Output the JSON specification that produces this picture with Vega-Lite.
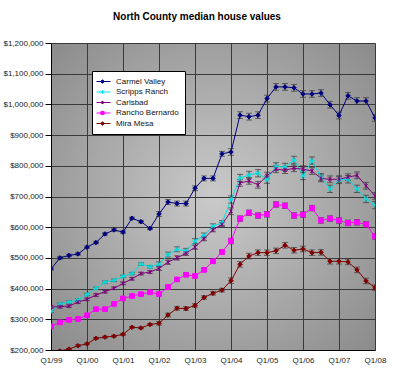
{
  "$schema": "https://vega.github.io/schema/vega-lite/v6.json",
  "width": 324,
  "height": 307,
  "padding": {"left": 2, "top": 12, "right": 5, "bottom": 5},
  "title": {"text": "North County median house values", "fontSize": 10, "font": "Liberation Sans", "fontWeight": "bold", "color": "#000000", "anchor": "middle", "frame": "group", "dx": -16, "offset": 17},
  "view": {
    "fill": {"gradient": "radial", "x1": 0.5, "y1": 0.5, "r1": 0, "x2": 0.5, "y2": 0.5, "r2": 0.72,
      "stops": [{"offset": 0, "color": "#cacaca"}, {"offset": 1, "color": "#888888"}]},
    "stroke": "#d8d8d8"
  },
  "config": {
    "font": "Liberation Sans",
    "axis": {"labelFont": "Liberation Sans", "labelFontSize": 8, "labelColor": "#222222", "gridColor": "#3a3a3a", "gridOpacity": 1, "gridWidth": 1, "domainColor": "#000000", "tickColor": "#000000", "title": null}
  },
  "data": {"values": [
    {"q":"Q1/99","s":"Carmel Valley","v":464000,"e":4000},
    {"q":"Q2/99","s":"Carmel Valley","v":500000,"e":4000},
    {"q":"Q3/99","s":"Carmel Valley","v":508000,"e":4000},
    {"q":"Q4/99","s":"Carmel Valley","v":513000,"e":4000},
    {"q":"Q1/00","s":"Carmel Valley","v":535000,"e":4000},
    {"q":"Q2/00","s":"Carmel Valley","v":550000,"e":4000},
    {"q":"Q3/00","s":"Carmel Valley","v":578000,"e":4000},
    {"q":"Q4/00","s":"Carmel Valley","v":591000,"e":4000},
    {"q":"Q1/01","s":"Carmel Valley","v":584000,"e":4000},
    {"q":"Q2/01","s":"Carmel Valley","v":629000,"e":4000},
    {"q":"Q3/01","s":"Carmel Valley","v":618000,"e":4000},
    {"q":"Q4/01","s":"Carmel Valley","v":596000,"e":4000},
    {"q":"Q1/02","s":"Carmel Valley","v":643000,"e":8000},
    {"q":"Q2/02","s":"Carmel Valley","v":682000,"e":8000},
    {"q":"Q3/02","s":"Carmel Valley","v":677000,"e":8000},
    {"q":"Q4/02","s":"Carmel Valley","v":677000,"e":8000},
    {"q":"Q1/03","s":"Carmel Valley","v":727000,"e":8000},
    {"q":"Q2/03","s":"Carmel Valley","v":759000,"e":8000},
    {"q":"Q3/03","s":"Carmel Valley","v":759000,"e":8000},
    {"q":"Q4/03","s":"Carmel Valley","v":839000,"e":8000},
    {"q":"Q1/04","s":"Carmel Valley","v":845000,"e":11000},
    {"q":"Q2/04","s":"Carmel Valley","v":965000,"e":11000},
    {"q":"Q3/04","s":"Carmel Valley","v":960000,"e":11000},
    {"q":"Q4/04","s":"Carmel Valley","v":965000,"e":11000},
    {"q":"Q1/05","s":"Carmel Valley","v":1019000,"e":11000},
    {"q":"Q2/05","s":"Carmel Valley","v":1057000,"e":11000},
    {"q":"Q3/05","s":"Carmel Valley","v":1057000,"e":11000},
    {"q":"Q4/05","s":"Carmel Valley","v":1054000,"e":11000},
    {"q":"Q1/06","s":"Carmel Valley","v":1034000,"e":11000},
    {"q":"Q2/06","s":"Carmel Valley","v":1034000,"e":11000},
    {"q":"Q3/06","s":"Carmel Valley","v":1037000,"e":11000},
    {"q":"Q4/06","s":"Carmel Valley","v":999000,"e":11000},
    {"q":"Q1/07","s":"Carmel Valley","v":964000,"e":11000},
    {"q":"Q2/07","s":"Carmel Valley","v":1028000,"e":11000},
    {"q":"Q3/07","s":"Carmel Valley","v":1011000,"e":11000},
    {"q":"Q4/07","s":"Carmel Valley","v":1011000,"e":11000},
    {"q":"Q1/08","s":"Carmel Valley","v":956000,"e":11000},
    {"q":"Q1/99","s":"Scripps Ranch","v":326000,"e":4000},
    {"q":"Q2/99","s":"Scripps Ranch","v":349000,"e":4000},
    {"q":"Q3/99","s":"Scripps Ranch","v":356000,"e":4000},
    {"q":"Q4/99","s":"Scripps Ranch","v":363000,"e":4000},
    {"q":"Q1/00","s":"Scripps Ranch","v":381000,"e":4000},
    {"q":"Q2/00","s":"Scripps Ranch","v":401000,"e":4000},
    {"q":"Q3/00","s":"Scripps Ranch","v":421000,"e":4000},
    {"q":"Q4/00","s":"Scripps Ranch","v":427000,"e":4000},
    {"q":"Q1/01","s":"Scripps Ranch","v":440000,"e":4000},
    {"q":"Q2/01","s":"Scripps Ranch","v":449000,"e":4000},
    {"q":"Q3/01","s":"Scripps Ranch","v":480000,"e":4000},
    {"q":"Q4/01","s":"Scripps Ranch","v":471000,"e":4000},
    {"q":"Q1/02","s":"Scripps Ranch","v":479000,"e":8000},
    {"q":"Q2/02","s":"Scripps Ranch","v":511000,"e":8000},
    {"q":"Q3/02","s":"Scripps Ranch","v":528000,"e":8000},
    {"q":"Q4/02","s":"Scripps Ranch","v":523000,"e":8000},
    {"q":"Q1/03","s":"Scripps Ranch","v":555000,"e":8000},
    {"q":"Q2/03","s":"Scripps Ranch","v":573000,"e":8000},
    {"q":"Q3/03","s":"Scripps Ranch","v":603000,"e":8000},
    {"q":"Q4/03","s":"Scripps Ranch","v":614000,"e":8000},
    {"q":"Q1/04","s":"Scripps Ranch","v":690000,"e":12000},
    {"q":"Q2/04","s":"Scripps Ranch","v":760000,"e":12000},
    {"q":"Q3/04","s":"Scripps Ranch","v":770000,"e":12000},
    {"q":"Q4/04","s":"Scripps Ranch","v":776000,"e":12000},
    {"q":"Q1/05","s":"Scripps Ranch","v":755000,"e":12000},
    {"q":"Q2/05","s":"Scripps Ranch","v":798000,"e":12000},
    {"q":"Q3/05","s":"Scripps Ranch","v":796000,"e":12000},
    {"q":"Q4/05","s":"Scripps Ranch","v":819000,"e":12000},
    {"q":"Q1/06","s":"Scripps Ranch","v":767000,"e":12000},
    {"q":"Q2/06","s":"Scripps Ranch","v":817000,"e":12000},
    {"q":"Q3/06","s":"Scripps Ranch","v":763000,"e":12000},
    {"q":"Q4/06","s":"Scripps Ranch","v":725000,"e":12000},
    {"q":"Q1/07","s":"Scripps Ranch","v":754000,"e":12000},
    {"q":"Q2/07","s":"Scripps Ranch","v":756000,"e":12000},
    {"q":"Q3/07","s":"Scripps Ranch","v":725000,"e":12000},
    {"q":"Q4/07","s":"Scripps Ranch","v":692000,"e":12000},
    {"q":"Q1/08","s":"Scripps Ranch","v":672000,"e":12000},
    {"q":"Q1/99","s":"Carlsbad","v":340000,"e":4000},
    {"q":"Q2/99","s":"Carlsbad","v":341000,"e":4000},
    {"q":"Q3/99","s":"Carlsbad","v":343000,"e":4000},
    {"q":"Q4/99","s":"Carlsbad","v":356000,"e":4000},
    {"q":"Q1/00","s":"Carlsbad","v":365000,"e":4000},
    {"q":"Q2/00","s":"Carlsbad","v":379000,"e":4000},
    {"q":"Q3/00","s":"Carlsbad","v":390000,"e":4000},
    {"q":"Q4/00","s":"Carlsbad","v":401000,"e":4000},
    {"q":"Q1/01","s":"Carlsbad","v":417000,"e":4000},
    {"q":"Q2/01","s":"Carlsbad","v":432000,"e":4000},
    {"q":"Q3/01","s":"Carlsbad","v":449000,"e":4000},
    {"q":"Q4/01","s":"Carlsbad","v":454000,"e":4000},
    {"q":"Q1/02","s":"Carlsbad","v":466000,"e":7000},
    {"q":"Q2/02","s":"Carlsbad","v":486000,"e":7000},
    {"q":"Q3/02","s":"Carlsbad","v":500000,"e":7000},
    {"q":"Q4/02","s":"Carlsbad","v":515000,"e":7000},
    {"q":"Q1/03","s":"Carlsbad","v":535000,"e":7000},
    {"q":"Q2/03","s":"Carlsbad","v":563000,"e":7000},
    {"q":"Q3/03","s":"Carlsbad","v":592000,"e":7000},
    {"q":"Q4/03","s":"Carlsbad","v":609000,"e":7000},
    {"q":"Q1/04","s":"Carlsbad","v":652000,"e":11000},
    {"q":"Q2/04","s":"Carlsbad","v":744000,"e":11000},
    {"q":"Q3/04","s":"Carlsbad","v":751000,"e":11000},
    {"q":"Q4/04","s":"Carlsbad","v":738000,"e":11000},
    {"q":"Q1/05","s":"Carlsbad","v":768000,"e":11000},
    {"q":"Q2/05","s":"Carlsbad","v":789000,"e":11000},
    {"q":"Q3/05","s":"Carlsbad","v":786000,"e":11000},
    {"q":"Q4/05","s":"Carlsbad","v":792000,"e":11000},
    {"q":"Q1/06","s":"Carlsbad","v":789000,"e":11000},
    {"q":"Q2/06","s":"Carlsbad","v":783000,"e":11000},
    {"q":"Q3/06","s":"Carlsbad","v":759000,"e":11000},
    {"q":"Q4/06","s":"Carlsbad","v":756000,"e":11000},
    {"q":"Q1/07","s":"Carlsbad","v":756000,"e":11000},
    {"q":"Q2/07","s":"Carlsbad","v":763000,"e":11000},
    {"q":"Q3/07","s":"Carlsbad","v":769000,"e":11000},
    {"q":"Q4/07","s":"Carlsbad","v":735000,"e":11000},
    {"q":"Q1/08","s":"Carlsbad","v":702000,"e":11000},
    {"q":"Q1/99","s":"Rancho Bernardo","v":277000,"e":3000},
    {"q":"Q2/99","s":"Rancho Bernardo","v":290000,"e":3000},
    {"q":"Q3/99","s":"Rancho Bernardo","v":298000,"e":3000},
    {"q":"Q4/99","s":"Rancho Bernardo","v":301000,"e":3000},
    {"q":"Q1/00","s":"Rancho Bernardo","v":313000,"e":3000},
    {"q":"Q2/00","s":"Rancho Bernardo","v":333000,"e":3000},
    {"q":"Q3/00","s":"Rancho Bernardo","v":333000,"e":3000},
    {"q":"Q4/00","s":"Rancho Bernardo","v":350000,"e":3000},
    {"q":"Q1/01","s":"Rancho Bernardo","v":368000,"e":3000},
    {"q":"Q2/01","s":"Rancho Bernardo","v":376000,"e":3000},
    {"q":"Q3/01","s":"Rancho Bernardo","v":382000,"e":3000},
    {"q":"Q4/01","s":"Rancho Bernardo","v":388000,"e":3000},
    {"q":"Q1/02","s":"Rancho Bernardo","v":382000,"e":6000},
    {"q":"Q2/02","s":"Rancho Bernardo","v":405000,"e":6000},
    {"q":"Q3/02","s":"Rancho Bernardo","v":430000,"e":6000},
    {"q":"Q4/02","s":"Rancho Bernardo","v":445000,"e":6000},
    {"q":"Q1/03","s":"Rancho Bernardo","v":441000,"e":6000},
    {"q":"Q2/03","s":"Rancho Bernardo","v":461000,"e":6000},
    {"q":"Q3/03","s":"Rancho Bernardo","v":489000,"e":6000},
    {"q":"Q4/03","s":"Rancho Bernardo","v":519000,"e":6000},
    {"q":"Q1/04","s":"Rancho Bernardo","v":555000,"e":9000},
    {"q":"Q2/04","s":"Rancho Bernardo","v":628000,"e":9000},
    {"q":"Q3/04","s":"Rancho Bernardo","v":647000,"e":9000},
    {"q":"Q4/04","s":"Rancho Bernardo","v":638000,"e":9000},
    {"q":"Q1/05","s":"Rancho Bernardo","v":642000,"e":9000},
    {"q":"Q2/05","s":"Rancho Bernardo","v":674000,"e":9000},
    {"q":"Q3/05","s":"Rancho Bernardo","v":670000,"e":9000},
    {"q":"Q4/05","s":"Rancho Bernardo","v":638000,"e":9000},
    {"q":"Q1/06","s":"Rancho Bernardo","v":641000,"e":9000},
    {"q":"Q2/06","s":"Rancho Bernardo","v":662000,"e":9000},
    {"q":"Q3/06","s":"Rancho Bernardo","v":622000,"e":9000},
    {"q":"Q4/06","s":"Rancho Bernardo","v":628000,"e":9000},
    {"q":"Q1/07","s":"Rancho Bernardo","v":622000,"e":9000},
    {"q":"Q2/07","s":"Rancho Bernardo","v":614000,"e":9000},
    {"q":"Q3/07","s":"Rancho Bernardo","v":616000,"e":9000},
    {"q":"Q4/07","s":"Rancho Bernardo","v":609000,"e":9000},
    {"q":"Q1/08","s":"Rancho Bernardo","v":570000,"e":9000},
    {"q":"Q1/99","s":"Mira Mesa","v":193000,"e":2000},
    {"q":"Q2/99","s":"Mira Mesa","v":197000,"e":2000},
    {"q":"Q3/99","s":"Mira Mesa","v":203000,"e":2000},
    {"q":"Q4/99","s":"Mira Mesa","v":214000,"e":3000},
    {"q":"Q1/00","s":"Mira Mesa","v":220000,"e":3000},
    {"q":"Q2/00","s":"Mira Mesa","v":238000,"e":3000},
    {"q":"Q3/00","s":"Mira Mesa","v":242000,"e":3000},
    {"q":"Q4/00","s":"Mira Mesa","v":245000,"e":3000},
    {"q":"Q1/01","s":"Mira Mesa","v":251000,"e":3000},
    {"q":"Q2/01","s":"Mira Mesa","v":274000,"e":3000},
    {"q":"Q3/01","s":"Mira Mesa","v":272000,"e":3000},
    {"q":"Q4/01","s":"Mira Mesa","v":283000,"e":3000},
    {"q":"Q1/02","s":"Mira Mesa","v":287000,"e":6000},
    {"q":"Q2/02","s":"Mira Mesa","v":314000,"e":6000},
    {"q":"Q3/02","s":"Mira Mesa","v":336000,"e":6000},
    {"q":"Q4/02","s":"Mira Mesa","v":335000,"e":6000},
    {"q":"Q1/03","s":"Mira Mesa","v":345000,"e":6000},
    {"q":"Q2/03","s":"Mira Mesa","v":371000,"e":6000},
    {"q":"Q3/03","s":"Mira Mesa","v":385000,"e":6000},
    {"q":"Q4/03","s":"Mira Mesa","v":395000,"e":6000},
    {"q":"Q1/04","s":"Mira Mesa","v":426000,"e":9000},
    {"q":"Q2/04","s":"Mira Mesa","v":479000,"e":9000},
    {"q":"Q3/04","s":"Mira Mesa","v":506000,"e":9000},
    {"q":"Q4/04","s":"Mira Mesa","v":517000,"e":9000},
    {"q":"Q1/05","s":"Mira Mesa","v":517000,"e":9000},
    {"q":"Q2/05","s":"Mira Mesa","v":523000,"e":9000},
    {"q":"Q3/05","s":"Mira Mesa","v":541000,"e":9000},
    {"q":"Q4/05","s":"Mira Mesa","v":525000,"e":9000},
    {"q":"Q1/06","s":"Mira Mesa","v":529000,"e":9000},
    {"q":"Q2/06","s":"Mira Mesa","v":517000,"e":9000},
    {"q":"Q3/06","s":"Mira Mesa","v":518000,"e":9000},
    {"q":"Q4/06","s":"Mira Mesa","v":489000,"e":9000},
    {"q":"Q1/07","s":"Mira Mesa","v":489000,"e":9000},
    {"q":"Q2/07","s":"Mira Mesa","v":487000,"e":9000},
    {"q":"Q3/07","s":"Mira Mesa","v":461000,"e":9000},
    {"q":"Q4/07","s":"Mira Mesa","v":425000,"e":9000},
    {"q":"Q1/08","s":"Mira Mesa","v":403000,"e":9000}
  ]},
  "encoding": {
    "x": {"field": "q", "type": "ordinal",
      "scale": {"type": "point", "padding": 0, "domain": ["Q1/99","Q2/99","Q3/99","Q4/99","Q1/00","Q2/00","Q3/00","Q4/00","Q1/01","Q2/01","Q3/01","Q4/01","Q1/02","Q2/02","Q3/02","Q4/02","Q1/03","Q2/03","Q3/03","Q4/03","Q1/04","Q2/04","Q3/04","Q4/04","Q1/05","Q2/05","Q3/05","Q4/05","Q1/06","Q2/06","Q3/06","Q4/06","Q1/07","Q2/07","Q3/07","Q4/07","Q1/08"]},
      "axis": {"values": ["Q1/99","Q1/00","Q1/01","Q1/02","Q1/03","Q1/04","Q1/05","Q1/06","Q1/07","Q1/08"], "labelAngle": 0, "grid": true, "ticks": false, "labelPadding": 6, "title": null}},
    "y": {"field": "v", "type": "quantitative",
      "scale": {"domain": [200000, 1200000], "nice": false, "zero": false},
      "axis": {"values": [200000,300000,400000,500000,600000,700000,800000,900000,1000000,1100000,1200000], "format": "$,.0f", "grid": true, "tickSize": 6, "labelPadding": 2, "title": null}}
  },
  "layer": [
    {
      "mark": {"type": "errorbar", "ticks": {"size": 6, "color": "#3c3c3c"}, "rule": {"color": "#3c3c3c"}, "clip": true},
      "encoding": {"yError": {"field": "e"}, "detail": {"field": "s", "type": "nominal"}}
    },
    {
      "mark": {"type": "line", "strokeWidth": 1, "clip": true},
      "encoding": {
        "color": {"field": "s", "type": "nominal",
          "scale": {"domain": ["Carmel Valley","Scripps Ranch","Carlsbad","Rancho Bernardo","Mira Mesa"], "range": ["#000080","#00E0E0","#800080","#FF00FF","#800000"]},
          "legend": {"title": null, "orient": "none", "legendX": 41, "legendY": 28, "fillColor": "#ffffff", "strokeColor": "#000000", "padding": 6, "labelFontSize": 8, "labelFont": "Liberation Sans", "labelColor": "#111111", "symbolType": "M-1.5,0H2", "symbolSize": 64, "symbolStrokeWidth": 1, "rowPadding": 1.5, "labelOffset": 9,
            "encode": {"symbols": {"update": {
              "fill": {"scale": "color", "field": "value"},
              "stroke": {"scale": "color", "field": "value"},
              "shape": {"signal": "datum.value === 'Rancho Bernardo' ? 'M-1.5,0H2M-0.4,-0.4H0.4V0.4H-0.4Z' : datum.value === 'Scripps Ranch' ? 'M-1.5,0H2M0,-0.45V0.45M-0.32,-0.32L0.32,0.32M-0.32,0.32L0.32,-0.32' : datum.value === 'Carlsbad' ? 'M-1.5,0H2M0,-0.4V0.4M-0.28,-0.28L0.28,0.28M-0.28,0.28L0.28,-0.28' : 'M-1.5,0H2M-0.45,0L0,-0.45L0.45,0L0,0.45Z'"},
              "size": {"value": 64},
              "strokeWidth": {"value": 1},
              "opacity": {"value": 1}}}}}
        }
      }
    },
    {
      "transform": [{"filter": "datum.s === 'Carmel Valley'"}],
      "mark": {"type": "point", "shape": "diamond", "filled": true, "fill": "#000080", "stroke": "#000080", "strokeWidth": 1, "size": 20, "opacity": 1, "clip": true}
    },
    {
      "transform": [{"filter": "datum.s === 'Scripps Ranch'"}],
      "mark": {"type": "point", "shape": "M-1,0L1,0M0,-1L0,1M-0.7,-0.7L0.7,0.7M-0.7,0.7L0.7,-0.7", "filled": false, "stroke": "#00E0E0", "strokeWidth": 1, "size": 25, "opacity": 1, "clip": true}
    },
    {
      "transform": [{"filter": "datum.s === 'Carlsbad'"}],
      "mark": {"type": "point", "shape": "M-0.8,-0.8L0.8,0.8M-0.8,0.8L0.8,-0.8M0,-1L0,1", "filled": false, "stroke": "#800080", "strokeWidth": 1, "size": 20, "opacity": 1, "clip": true}
    },
    {
      "transform": [{"filter": "datum.s === 'Rancho Bernardo'"}],
      "mark": {"type": "point", "shape": "square", "filled": true, "fill": "#FF00FF", "stroke": "#FF00FF", "strokeWidth": 1, "size": 22, "opacity": 1, "clip": true}
    },
    {
      "transform": [{"filter": "datum.s === 'Mira Mesa'"}],
      "mark": {"type": "point", "shape": "diamond", "filled": true, "fill": "#800000", "stroke": "#800000", "strokeWidth": 1, "size": 20, "opacity": 1, "clip": true}
    }
  ]
}
